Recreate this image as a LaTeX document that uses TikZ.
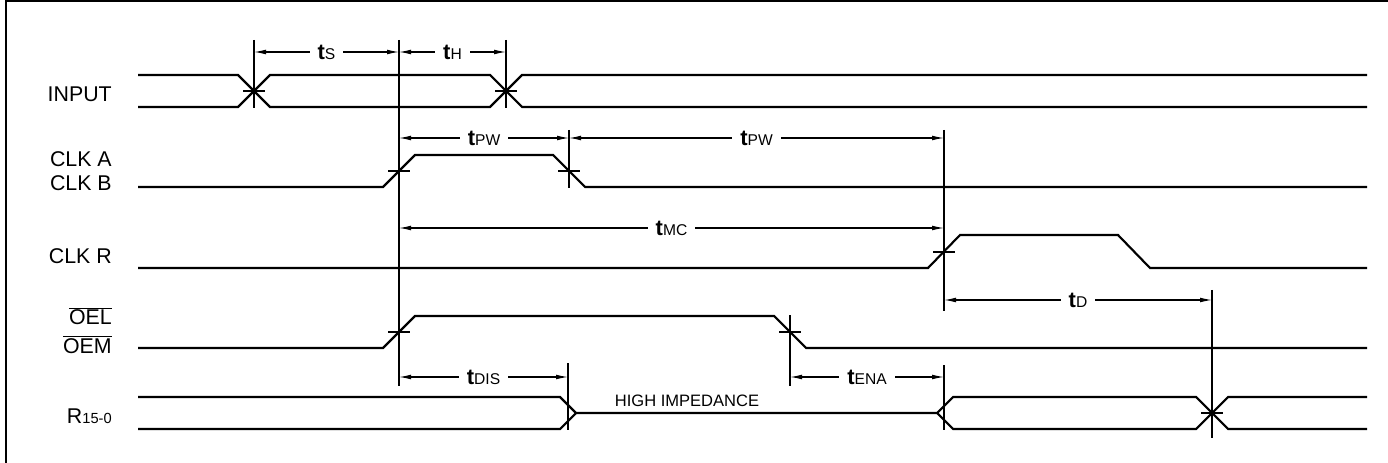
\documentclass[tikz,border=0pt]{standalone}
\usepackage{fontspec}
\setmainfont{Liberation Sans}
\usepackage{tikz}
\usetikzlibrary{arrows.meta,positioning}
\tikzstyle{wave} = [line width=1.6pt, line join=miter]
\tikzstyle{extline} = [line width=0.8pt]
\tikzstyle{dimline} = [line width=0.8pt, {Latex[length=9pt,width=3.6pt]}-{Latex[length=9pt,width=3.6pt]}]
\tikzstyle{dimlabel} = [fill=white, inner xsep=6pt, inner ysep=1pt]
\tikzstyle{siglabel} = [anchor=base east, inner sep=0pt, font=\fontsize{16}{16}\selectfont]
\newcommand{\tname}[1]{{\fontsize{16.5}{16.5}\selectfont\bfseries t}{\fontsize{11.7}{11.7}\selectfont #1}}
\newcommand{\ovl}[1]{$\overline{\hbox{#1}}$}

\begin{document}
\begin{tikzpicture}[x=0.75pt, y=-0.75pt]
\useasboundingbox (0,0) rectangle (1388,463);
% frame
\draw[line width=1.5pt] (6,463) -- (6,1) -- (1388,1);

% event points
\coordinate (inX) at (254,91);
\coordinate (inY) at (506,91);
\coordinate (ckU) at (399,171);
\coordinate (ckD) at (569,171);
\coordinate (crU) at (944,252);
\coordinate (oeU) at (399,332);
\coordinate (oeD) at (790,332);
\coordinate (rZ) at (568,413);
\coordinate (rE) at (944,413);
\coordinate (rX) at (1212,413);
% rows of the dimension lines
\coordinate (rowA) at (0,52);
\coordinate (rowB) at (0,138);
\coordinate (rowC) at (0,228);
\coordinate (rowD) at (0,300);
\coordinate (rowE) at (0,377);

% signal names
\node[siglabel] (lblIn) at (112,101.5) {INPUT};
\node[siglabel] (lblClkA) at (112,167) {CLK A};
\node[siglabel] (lblClkB) at (112,191) {CLK B};
\node[siglabel] (lblClkR) at (112,263) {CLK R};
\node[siglabel] (lblOel) at (112,325) {\ovl{OEL}};
\node[siglabel] (lblOem) at (112,353) {\ovl{OEM}};
\node[siglabel] (lblR) at (112,423) {R{\fontsize{11}{11}\selectfont 15-0}};

% waveforms
\draw[wave] (138,75) -- (238,75) -- (270,107) -- (490,107) -- (522,75) -- (1367,75);
\draw[wave] (138,107) -- (238,107) -- (270,75) -- (490,75) -- (522,107) -- (1367,107);
\draw[wave] (138,187) -- (383,187) -- (415,155) -- (553,155) -- (585,187) -- (1367,187);
\draw[wave] (138,268) -- (928,268) -- (960,235) -- (1118,235) -- (1150,268) -- (1367,268);
\draw[wave] (138,348) -- (383,348) -- (415,316) -- (774,316) -- (806,348) -- (1367,348);
\draw[wave] (138,397) -- (560,397) -- (576,413) -- (937,413) -- (953,397) -- (1196,397) -- (1228,429) -- (1367,429);
\draw[wave] (138,429) -- (560,429) -- (576,413);
\draw[wave] (937,413) -- (953,429) -- (1196,429) -- (1228,397) -- (1367,397);
\node[font=\fontsize{12.4}{12.4}\selectfont, anchor=base] (hiz) at (687,406) {HIGH IMPEDANCE};

% extension lines
\draw[extline] (inX |- 0,40) -- (inX |- 0,108);
\draw[extline] (ckU |- 0,40) -- (ckU |- 0,386);
\draw[extline] (inY |- 0,40) -- (inY |- 0,108);
\draw[extline] (ckD |- 0,130) -- (ckD |- 0,188);
\draw[extline] (crU |- 0,130) -- (crU |- 0,311);
\draw[extline] (oeD |- 0,315) -- (oeD |- 0,386);
\draw[extline] (rZ |- 0,363) -- (rZ |- 0,430);
\draw[extline] (rE |- 0,365) -- (rE |- 0,430);
\draw[extline] (rX |- 0,290) -- (rX |- 0,438);
\foreach \p in {inX,inY,ckU,ckD,crU,oeU,oeD,rX}
  \draw[extline] ([xshift=-8pt]\p) -- ([xshift=8pt]\p);

% timing parameters
\draw[dimline] (inX |- rowA) -- node[dimlabel] (tS) {\tname{S}} (ckU |- rowA);
\draw[dimline] (ckU |- rowA) -- node[dimlabel] (tH) {\tname{H}} (inY |- rowA);
\draw[dimline] (ckU |- rowB) -- node[dimlabel] (tPWa) {\tname{PW}} (ckD |- rowB);
\draw[dimline] (ckD |- rowB) -- node[dimlabel] (tPWb) {\tname{PW}} (crU |- rowB);
\draw[dimline] (ckU |- rowC) -- node[dimlabel] (tMC) {\tname{MC}} (crU |- rowC);
\draw[dimline] (crU |- rowD) -- node[dimlabel] (tD) {\tname{D}} (rX |- rowD);
\draw[dimline] (ckU |- rowE) -- node[dimlabel] (tDIS) {\tname{DIS}} (rZ |- rowE);
\draw[dimline] (oeD |- rowE) -- node[dimlabel] (tENA) {\tname{ENA}} (rE |- rowE);
\end{tikzpicture}
\end{document}
